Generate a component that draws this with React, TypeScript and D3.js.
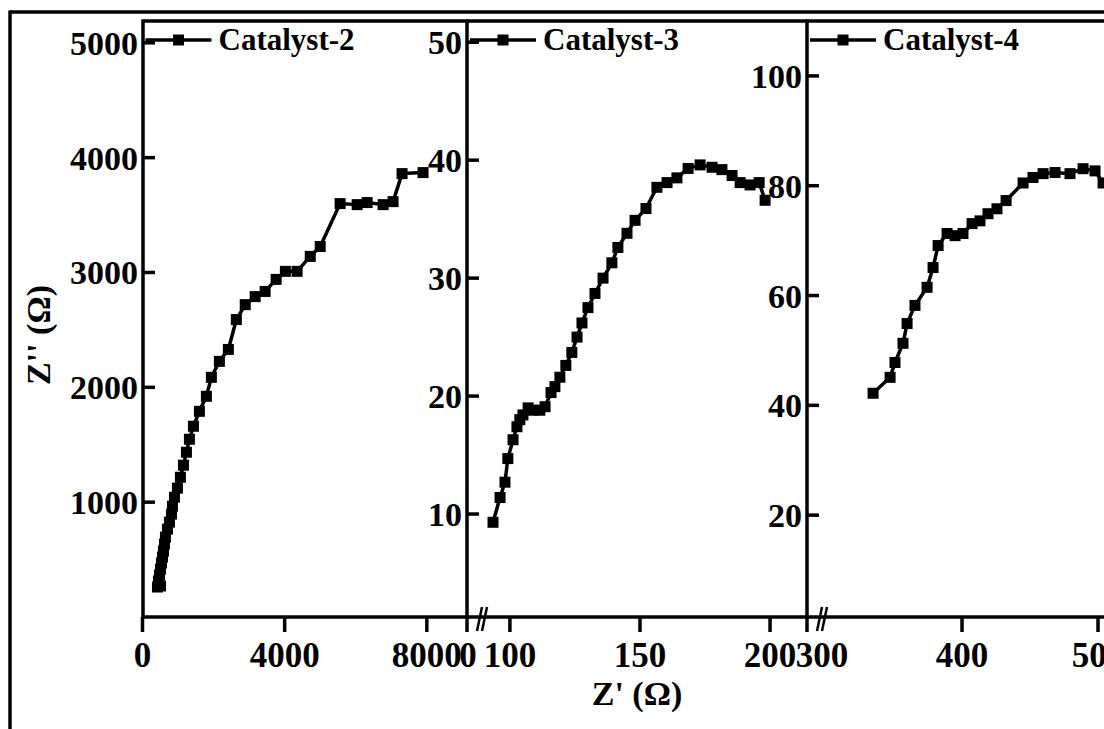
import React from "react";
import * as d3 from "d3";

// ---- Data (Z' in ohm, Z'' in ohm) ----
const catalyst2Re = [421, 506, 449, 478, 506, 534, 562, 590, 618, 646, 702, 758, 815, 843, 899, 983, 1067, 1152, 1236, 1320, 1433, 1601, 1798, 1938, 2163, 2416, 2640, 2890, 3170, 3450, 3760, 4020, 4350, 4720, 5000, 5560, 6040, 6320, 6770, 7050, 7303, 7893];
const catalyst2Im = [261, 270, 313, 365, 417, 470, 522, 574, 635, 696, 765, 826, 896, 965, 1043, 1122, 1217, 1322, 1435, 1548, 1661, 1791, 1922, 2087, 2226, 2330, 2590, 2720, 2790, 2835, 2940, 3010, 3010, 3140, 3226, 3600, 3591, 3609, 3591, 3617, 3861, 3870];

const catalyst3Re = [93.5, 96.2, 98.1, 99.2, 101.2, 102.7, 103.8, 105.0, 107.0, 108.8, 111.5, 113.5, 115.8, 117.3, 119.2, 121.5, 123.8, 125.8, 127.7, 130.0, 132.7, 135.8, 139.2, 141.5, 145.0, 148.1, 152.3, 156.5, 160.4, 164.2, 168.5, 173.1, 177.7, 181.5, 185.4, 188.5, 192.3, 195.8, 198.1];
const catalyst3Im = [9.3, 11.4, 12.7, 14.7, 16.3, 17.4, 18.0, 18.4, 19.0, 18.8, 18.8, 19.1, 20.3, 20.8, 21.6, 22.6, 23.7, 25.0, 26.2, 27.5, 28.7, 30.0, 31.3, 32.6, 33.8, 34.9, 35.9, 37.7, 38.1, 38.5, 39.3, 39.6, 39.4, 39.2, 38.7, 38.1, 37.9, 38.1, 36.6];

const catalyst4Re = [334.6, 347.1, 350.7, 356.6, 359.6, 365.4, 374.3, 378.7, 382.4, 389, 394.9, 400.7, 407.4, 413.2, 419.1, 425.7, 432.4, 444.9, 452.2, 459.6, 468.4, 479.4, 489, 497.8, 503.7];
const catalyst4Im = [42.2, 45.1, 47.8, 51.3, 54.9, 58.2, 61.5, 65.1, 69.1, 71.3, 70.9, 71.3, 73.1, 73.6, 74.9, 75.8, 77.3, 80.5, 81.5, 82.2, 82.4, 82.2, 83.1, 82.7, 80.5];

const seriesNames = ["Catalyst-2", "Catalyst-3", "Catalyst-4"];
const xTicks = [[0, 4000, 8000], [100, 150, 200], [300, 400, 500]];
const yTicks = [[1000, 2000, 3000, 4000, 5000], [10, 20, 30, 40, 50], [20, 40, 60, 80, 100]];
const xDomains = [[0, 9130], [83.5, 214.2], [286, 504.4]];
const yDomains = [[0, 5190], [1.27, 51.8], [1.45, 110]];
const edgeLabels = ["", "0", ""];
const xTitle = "Z' (\u03A9)";
const yTitle = "Z'' (\u03A9)";

const W = 1104;
const H = 729;
const TOP = 21;
const BOTTOM = 617;
const panelLeft = [142.5, 467, 807];
const panelRight = [467, 807, 1104];
const FONT = "'Liberation Serif', 'Times New Roman', serif";

export default function App() {
  const re = [catalyst2Re, catalyst3Re, catalyst4Re];
  const im = [catalyst2Im, catalyst3Im, catalyst4Im];

  return (
    <svg width={W} height={H} style={{ position: "absolute", left: 0, top: 0, background: "#fff" }} fontFamily={FONT} fontWeight="bold">
      <defs>
        {panelLeft.map((l, i) => (
          <clipPath id={`clip${i}`} key={i}>
            <rect x={l} y={TOP} width={panelRight[i] - l} height={BOTTOM - TOP} />
          </clipPath>
        ))}
      </defs>
      <rect x={0} y={0} width={W} height={H} fill="#fff" />
      {/* outer frame */}
      <line x1={10} y1={12} x2={W} y2={12} stroke="#000" strokeWidth={3.5} />
      <line x1={10} y1={10.5} x2={10} y2={H} stroke="#000" strokeWidth={3.5} />
      {/* inner top line */}
      <line x1={panelLeft[0]} y1={TOP} x2={W} y2={TOP} stroke="#000" strokeWidth={3.5} />

      {panelLeft.map((l, i) => {
        const r = panelRight[i];
        const x = d3.scaleLinear().domain(xDomains[i]).range([l, r]);
        const y = d3.scaleLinear().domain(yDomains[i]).range([BOTTOM, TOP]);
        const pts = re[i].map((v, k) => [x(v), y(im[i][k])] as [number, number]);
        const line = d3.line()(pts) || "";
        const axisX = i === 0 ? 143 : l;
        return (
          <g key={i}>
            {/* y axis */}
            <line x1={axisX} y1={TOP - 1.5} x2={axisX} y2={BOTTOM + 1.5} stroke="#000" strokeWidth={3.5} />
            {yTicks[i].map((t) => (
              <g key={t}>
                <line x1={axisX} x2={axisX + 12} y1={y(t)} y2={y(t)} stroke="#000" strokeWidth={3.5} />
                <text x={axisX - 5} y={y(t) + 12} textAnchor="end" fontSize={34}>{t}</text>
              </g>
            ))}
            {/* x axis */}
            <line x1={axisX} y1={BOTTOM} x2={r} y2={BOTTOM} stroke="#000" strokeWidth={3.5} />
            {xTicks[i].map((t) => (
              <g key={t}>
                {!(i === 2 && t === 300) && (
                  <line x1={x(t)} x2={x(t)} y1={BOTTOM} y2={BOTTOM + 15} stroke="#000" strokeWidth={3.5} />
                )}
                <text x={i === 2 && t === 300 ? x(t) - 4 : x(t)} y={667} textAnchor="middle" fontSize={35}>{t}</text>
              </g>
            ))}
            {i > 0 && (
              <g>
                <line x1={l} x2={l} y1={BOTTOM} y2={BOTTOM + 15} stroke="#000" strokeWidth={3.5} />
                {edgeLabels[i] && (
                  <text x={l + 1} y={667} textAnchor="middle" fontSize={35}>{edgeLabels[i]}</text>
                )}
                <line x1={l + 10} y1={BOTTOM + 14} x2={l + 15} y2={BOTTOM - 10} stroke="#000" strokeWidth={2.5} />
                <line x1={l + 15} y1={BOTTOM + 14} x2={l + 20} y2={BOTTOM - 10} stroke="#000" strokeWidth={2.5} />
              </g>
            )}
            {/* data */}
            <g clipPath={`url(#clip${i})`}>
              <path d={line} fill="none" stroke="#000" strokeWidth={3.5} strokeLinejoin="round" />
              {pts.map((p, k) => (
                <rect key={k} x={p[0] - 5.5} y={p[1] - 5.5} width={11} height={11} fill="#000" />
              ))}
            </g>
            {/* legend */}
            <line x1={l + 3} y1={40} x2={l + 69} y2={40} stroke="#000" strokeWidth={3.5} />
            <rect x={l + 30.5} y={34.5} width={11} height={11} fill="#000" />
            <text x={l + 76} y={50} fontSize={31}>{seriesNames[i]}</text>
          </g>
        );
      })}

      <text x={637} y={705} textAnchor="middle" fontSize={34}>{xTitle}</text>
      <text transform="translate(50,335) rotate(-90)" textAnchor="middle" fontSize={34}>{yTitle}</text>
    </svg>
  );
}
